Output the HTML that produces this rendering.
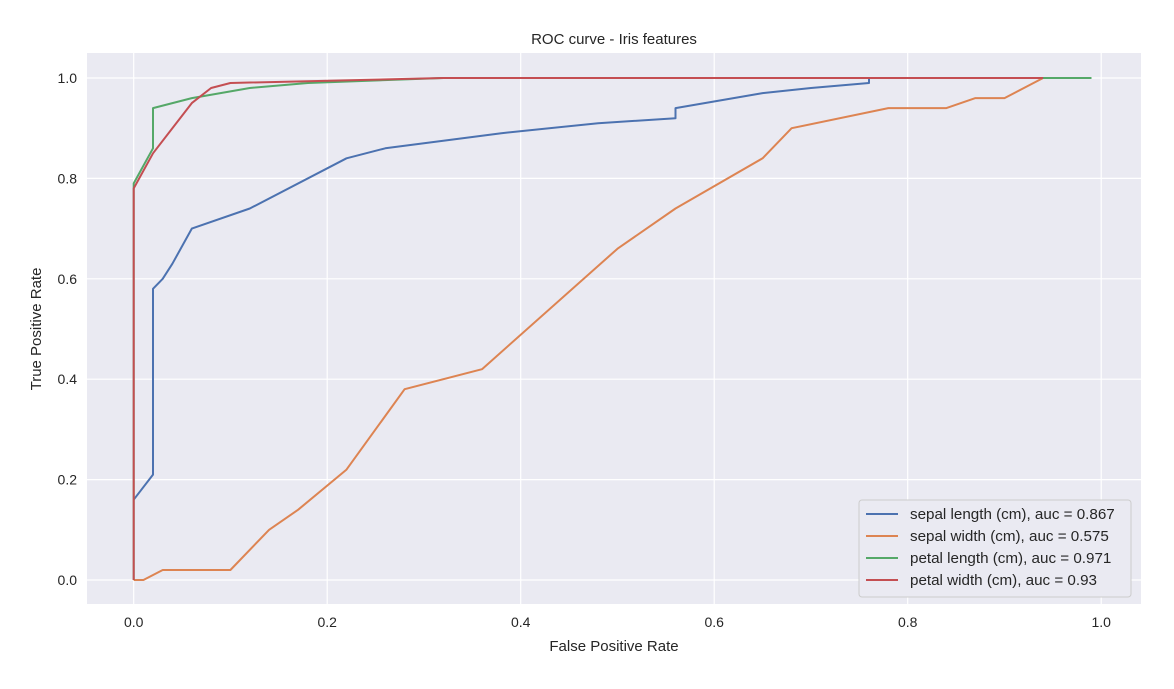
<!DOCTYPE html>
<html><head><meta charset="utf-8"><style>
body{margin:0;background:#fff;font-family:"Liberation Sans",sans-serif;}
svg text{font-family:"Liberation Sans",sans-serif;fill:#262626;}
</style></head><body>
<svg id="chart" width="1174" height="684" xmlns="http://www.w3.org/2000/svg">
<rect x="0" y="0" width="1174" height="684" fill="#fff"/>
<rect x="87" y="53" width="1054" height="551" fill="#eaeaf2"/>
<g id="grid"></g>
<g id="series"></g>
<g id="ticks"></g>
<text x="614" y="44" font-size="15" text-anchor="middle">ROC curve - Iris features</text>
<text x="614" y="651" font-size="15" text-anchor="middle">False Positive Rate</text>
<text transform="translate(41,329) rotate(-90)" font-size="15" text-anchor="middle">True Positive Rate</text>
<g id="legend"></g>
</svg>
<script>
const seriesNames = ["sepal length (cm), auc = 0.867","sepal width (cm), auc = 0.575","petal length (cm), auc = 0.971","petal width (cm), auc = 0.93"];
const seriesColors = ["#4c72b0","#dd8452","#55a868","#c44e52"];
const sepalLengthX = [0,0.02,0.02,0.03,0.04,0.06,0.12,0.22,0.26,0.38,0.48,0.56,0.56,0.65,0.70,0.76,0.76,0.94];
const sepalLengthY = [0.16,0.21,0.58,0.60,0.63,0.70,0.74,0.84,0.86,0.89,0.91,0.92,0.94,0.97,0.98,0.99,1.0,1.0];
const sepalWidthX = [0,0.01,0.03,0.10,0.14,0.17,0.22,0.28,0.36,0.50,0.56,0.65,0.68,0.78,0.84,0.87,0.90,0.94,0.99];
const sepalWidthY = [0,0,0.02,0.02,0.10,0.14,0.22,0.38,0.42,0.66,0.74,0.84,0.90,0.94,0.94,0.96,0.96,1.0,1.0];
const petalLengthX = [0,0,0.02,0.02,0.06,0.12,0.18,0.32,0.99];
const petalLengthY = [0,0.79,0.86,0.94,0.96,0.98,0.99,1.0,1.0];
const petalWidthX = [0,0,0.02,0.06,0.08,0.10,0.32,0.94];
const petalWidthY = [0,0.78,0.85,0.95,0.98,0.99,1.0,1.0];
const tickValues = [0,0.2,0.4,0.6,0.8,1.0];
const tickLabels = ["0.0","0.2","0.4","0.6","0.8","1.0"];

const NS="http://www.w3.org/2000/svg";
const xs = v => 133.7 + v*967.5;
const ys = v => 580 - v*502;
function mk(tag, attrs, parent){const e=document.createElementNS(NS,tag);for(const k in attrs)e.setAttribute(k,attrs[k]);parent.appendChild(e);return e;}
const grid=document.getElementById('grid'), ticks=document.getElementById('ticks'), ser=document.getElementById('series'), leg=document.getElementById('legend');
tickValues.forEach((t,i)=>{
  const gx=mk('line',{x1:xs(t),x2:xs(t),y1:53,y2:604,stroke:'#fff','stroke-width':1.2},grid);
  
  
  const gy=mk('line',{x1:87,x2:1141,y1:ys(t),y2:ys(t),stroke:'#fff','stroke-width':1.2},grid);
  
  
  const tx=mk('text',{x:xs(t),y:627,'font-size':14,'text-anchor':'middle'},ticks);tx.textContent=tickLabels[i];
  
  
  const ty=mk('text',{x:77,y:ys(t)+5,'font-size':14,'text-anchor':'end'},ticks);ty.textContent=tickLabels[i];
  
  
});
const allX=[sepalLengthX,sepalWidthX,petalLengthX,petalWidthX], allY=[sepalLengthY,sepalWidthY,petalLengthY,petalWidthY];
const lineNames=['sepal-length-line','sepal-width-line','petal-length-line','petal-width-line'];
allX.forEach((X,s)=>{
  const pts=X.map((x,i)=>xs(x).toFixed(1)+','+ys(allY[s][i]).toFixed(1)).join(' ');
  const p=mk('polyline',{points:pts,fill:'none',stroke:seriesColors[s],'stroke-width':2,'stroke-linejoin':'round'},ser);
  
  
});
const lb=mk('rect',{x:859,y:500,width:272,height:97,rx:3,fill:'#eaeaf2',stroke:'#ccc','stroke-width':1},leg);


seriesNames.forEach((n,i)=>{
  const y=514+i*22;
  const l=mk('line',{x1:866,x2:898,y1:y,y2:y,stroke:seriesColors[i],'stroke-width':2},leg);
  
  
  const t=mk('text',{x:910,y:y+5,'font-size':15.2},leg);t.textContent=n;
  
  
});
</script>
</body></html>
